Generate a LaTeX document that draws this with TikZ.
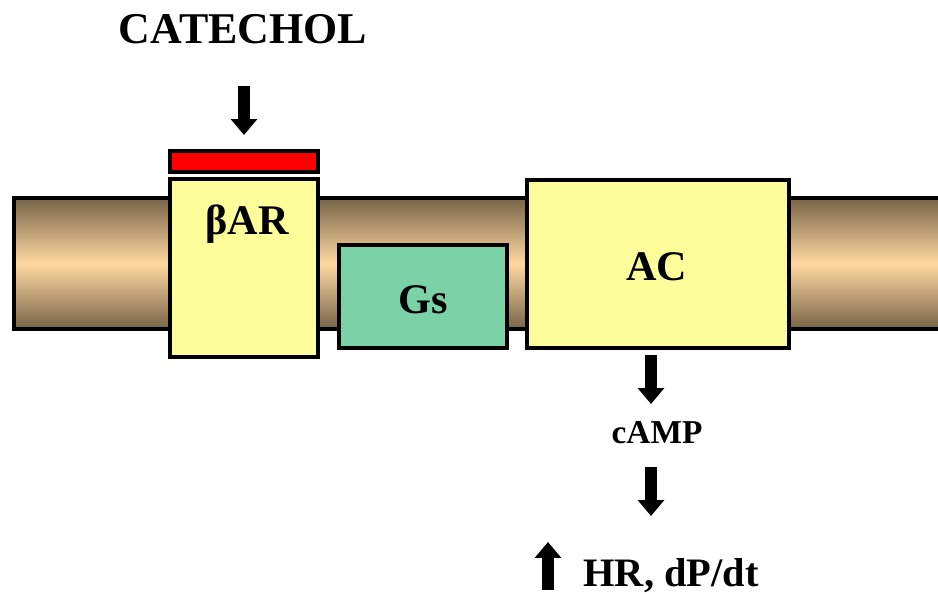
\documentclass[tikz,border=0pt]{standalone}
\usepackage{fontspec}
\setmainfont{Liberation Serif}
\usetikzlibrary{arrows.meta}
\definecolor{lipid}{RGB}{120,100,72}
\definecolor{lipidmid}{RGB}{255,216,160}
\definecolor{paleyellow}{RGB}{253,253,154}
\definecolor{gsgreen}{RGB}{122,210,166}

\begin{document}
\begin{tikzpicture}[x=0.02cm, y=-0.02cm, line width=1.8pt,
    big/.style={font=\bfseries\fontsize{24}{28}\selectfont, anchor=base},
    fat/.style={line width=7pt, -{Triangle[width=14.5pt,length=9pt]}}]
    \useasboundingbox (0,0) rectangle (938,593);
    % membrane
    \shade[top color=lipid, bottom color=lipid, middle color=lipidmid] (14,198) rectangle (942,329);
    \draw (942,198) -- (14,198) -- (14,329) -- (942,329);
    % receptor, G protein, cyclase
    \filldraw[fill=red] (170,151) rectangle (318,172);
    \filldraw[fill=paleyellow] (170,179) rectangle (318,357);
    \filldraw[fill=gsgreen] (339,245) rectangle (507,348);
    \filldraw[fill=paleyellow] (527,180) rectangle (789,348);
    \node[big, font=\bfseries\fontsize{25}{29}\selectfont] (cat) at (243,43) {CATECHOL};
    \node[big] (bar) at (247,234) {βAR};
    \node[big] (gs) at (423,313) {Gs};
    \node[big] (ac) at (657,280) {AC};
    \node[anchor=base, font=\bfseries\fontsize{19}{23}\selectfont] (camp) at (657,443) {cAMP};
    \node[anchor=base, font=\bfseries\fontsize{23}{27}\selectfont] (hr) at (671,586) {HR, dP/dt};
    % arrows
    \coordinate (C1) at (244,86);
    \coordinate (C2) at (244,135);
    \coordinate (A1) at (651,355);
    \coordinate (A2) at (651,404);
    \coordinate (A3) at (651,467);
    \coordinate (A4) at (651,516);
    \coordinate (U1) at (548,590);
    \coordinate (U2) at (548,542);
    \draw[fat] (C1) -- (C2);
    \draw[fat] (A1) -- (A2);
    \draw[fat] (A3) -- (A4);
    \draw[fat] (U1) -- (U2);
\end{tikzpicture}
\end{document}
